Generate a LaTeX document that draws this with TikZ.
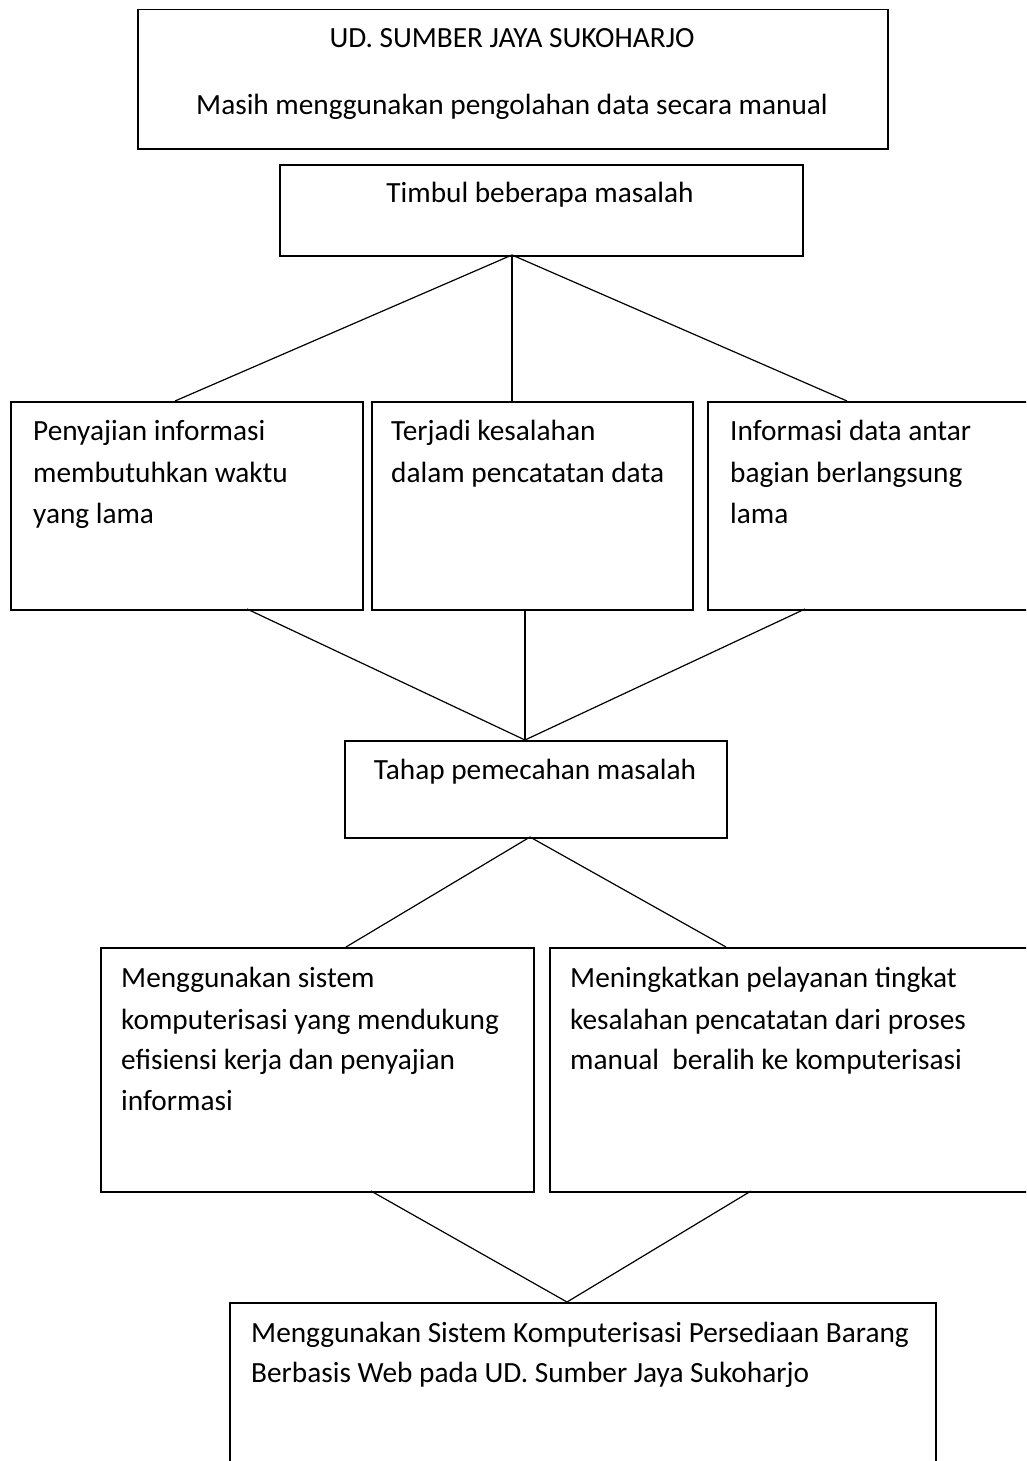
\documentclass[tikz,border=0pt]{standalone}
\usepackage{fontspec}
\setmainfont{Carlito}
\begin{document}
\begin{tikzpicture}[x=1pt,y=-1pt,
  box/.style={draw, line width=1.5pt, rectangle, inner sep=0pt, anchor=north west},
  conn/.style={line width=1.2pt},
  lbl/.style={inner sep=0pt, anchor=base west, font=\fontsize{29.3}{41.5}\selectfont},
  lblc/.style={lbl, anchor=base}]
\useasboundingbox (0,0) rectangle (1026,1461);
\clip (0,0) rectangle (1026,1461);
\fill[white] (0,0) rectangle (1026,1461);
% boxes
\node[box, minimum width=750pt, minimum height=139pt] (b1) at (137,9) {};
\node[box, minimum width=523pt, minimum height=91pt] (b2) at (279,164) {};
\node[box, minimum width=352pt, minimum height=208pt] (pA) at (10,401) {};
\node[box, minimum width=321pt, minimum height=208pt] (pB) at (371,401) {};
\node[box, minimum width=340pt, minimum height=208pt] (pC) at (707,401) {};
\node[box, minimum width=382pt, minimum height=97pt] (tp) at (344,740) {};
\node[box, minimum width=433pt, minimum height=244pt] (sD) at (100,947) {};
\node[box, minimum width=500pt, minimum height=244pt] (sE) at (549,947) {};
\node[box, minimum width=706pt, minimum height=220pt] (fin) at (229,1302) {};
% texts
\node[lblc] (t1a) at (512,48) {UD. SUMBER JAYA SUKOHARJO};
\node[lblc] (t1b) at (512,114) {Masih menggunakan pengolahan data secara manual};
\node[lblc] (t2) at (540,202) {Timbul beberapa masalah};
\node[lbl] (tA1) at (33,440) {Penyajian informasi};
\node[lbl] (tA2) at (33,482) {membutuhkan waktu};
\node[lbl] (tA3) at (33,523) {yang lama};
\node[lbl] (tB1) at (391,440) {Terjadi kesalahan};
\node[lbl] (tB2) at (391,482) {dalam pencatatan data};
\node[lbl] (tC1) at (730,440) {Informasi data antar};
\node[lbl] (tC2) at (730,482) {bagian berlangsung};
\node[lbl] (tC3) at (730,523) {lama};
\node[lblc] (tT) at (535,779) {Tahap pemecahan masalah};
\node[lbl] (tD1) at (121,987) {Menggunakan sistem};
\node[lbl] (tD2) at (121,1029) {komputerisasi yang mendukung};
\node[lbl] (tD3) at (121,1069) {efisiensi kerja dan penyajian};
\node[lbl] (tD4) at (121,1110) {informasi};
\node[lbl] (tE1) at (570,987) {Meningkatkan pelayanan tingkat};
\node[lbl] (tE2) at (570,1029) {kesalahan pencatatan dari proses};
\node[lbl] (tE3) at (570,1069) {manual\ \ beralih ke komputerisasi};
\node[lbl] (tF1) at (251,1342) {Menggunakan Sistem Komputerisasi Persediaan Barang};
\node[lbl] (tF2) at (251,1382) {Berbasis Web pada UD. Sumber Jaya Sukoharjo};
% connector end points
\coordinate (apex1) at (512,255);
\coordinate (aTop) at (175,401);
\coordinate (bTop) at (512,401);
\coordinate (cTop) at (847,401);
\coordinate (aBot) at (247,609);
\coordinate (bBot) at (525,609);
\coordinate (cBot) at (805,609);
\coordinate (apex2) at (525,740);
\coordinate (apex3) at (530,837);
\coordinate (dTop) at (346,947);
\coordinate (eTop) at (726,947);
\coordinate (dBot) at (371,1191);
\coordinate (eBot) at (751,1191);
\coordinate (apex4) at (567,1302);
% connectors
\draw[conn] (apex1) -- (aTop);
\draw[conn] (apex1) -- (bTop);
\draw[conn] (apex1) -- (cTop);
\draw[conn] (aBot) -- (apex2);
\draw[conn] (bBot) -- (apex2);
\draw[conn] (cBot) -- (apex2);
\draw[conn] (apex3) -- (dTop);
\draw[conn] (apex3) -- (eTop);
\draw[conn] (dBot) -- (apex4);
\draw[conn] (eBot) -- (apex4);
\end{tikzpicture}
\end{document}
